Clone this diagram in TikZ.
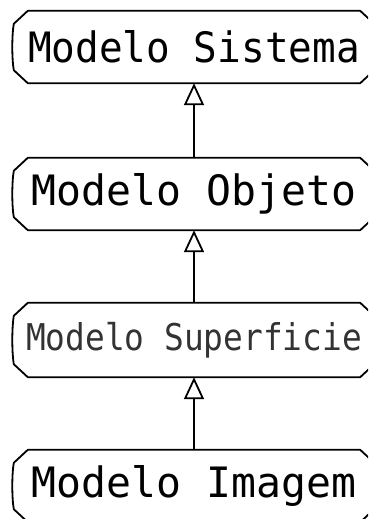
\documentclass[tikz,border=0pt]{standalone}
\usepackage{fontspec}
\newfontfamily\plotfont{DejaVu Sans Mono}
\usetikzlibrary{calc,arrows.meta}
\tikzset{
  model/.style={minimum width=360bp, minimum height=72bp, inner sep=0pt,
    font=\plotfont\fontsize{42}{42}\selectfont},
  frame/.style={line width=1.8bp, line join=round},
  link/.style={line width=1.8bp,
    -{Triangle[open, length=22bp, width=20bp, line width=1.8bp]}},
}
\begin{document}
\begin{tikzpicture}[x=1bp, y=-1bp]
\useasboundingbox (0,0) rectangle (368,519);
\clip (0,0) rectangle (368,519);

% model layers, top to bottom
\node[model] (sis) at (194,47)  {\scalebox{0.94}[1]{Modelo Sistema}};
\node[model] (obj) at (194,194) {\scalebox{0.99}[1]{Modelo Objeto}};
\node[model, minimum height=74bp, font=\plotfont\fontsize{37}{37}\selectfont, text=black!80]
  (sup) at (194,340) {\scalebox{0.89}[1]{Modelo Superficie}};
\node[model] (img) at (194,486) {\scalebox{0.99}[1]{Modelo Imagem}};

% chamfered frames with a slightly bowed left side
\foreach \n in {sis,obj,sup,img}{
  \draw[frame]
    ($(\n.north west)+(14,0)$) -- ($(\n.north east)+(-14,0)$)
    -- ($(\n.north east)+(0,13)$) -- ($(\n.south east)+(0,-13)$)
    -- ($(\n.south east)+(-14,0)$) -- ($(\n.south west)+(14,0)$)
    -- ($(\n.south west)+(0,-13)$)
    .. controls ($(\n.west)+(-2,12)$) and ($(\n.west)+(-2,-12)$) ..
    ($(\n.north west)+(0,13)$) -- cycle;
}

% dependency arrows
\draw[link] (obj.north) -- (sis.south);
\draw[link] (sup.north) -- (obj.south);
\draw[link] (img.north) -- (sup.south);
\end{tikzpicture}
\end{document}
